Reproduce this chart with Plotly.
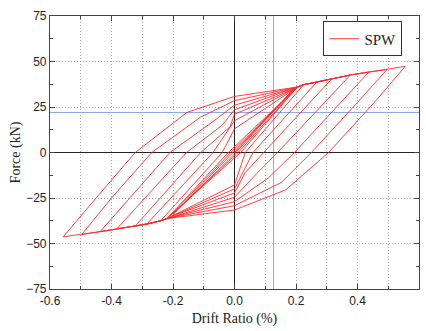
import plotly.graph_objects as go

# Backbone (envelope) points
env_pos_x = [0.205, 0.225, 0.268, 0.317, 0.377, 0.437, 0.496, 0.555]
env_pos_f = [36.0, 37.3, 38.7, 40.6, 42.6, 44.2, 45.6, 47.3]
env_neg_x = [-0.22, -0.24, -0.285, -0.323, -0.383, -0.437, -0.497, -0.557]
env_neg_f = [-36.3, -37.5, -39.3, -40.5, -42.0, -43.5, -45.1, -46.3]

# Unloading branches (positive peak -> toward negative side), inner cycles first
unload_x = [
    [0.19, 0.005, -0.20],
    [0.20, 0.012, -0.21],
    [0.205, 0.02, -0.22],
    [0.225, 0.035, 0.0, -0.22],
    [0.268, 0.06, 0.0, -0.22],
    [0.317, 0.095, 0.035, 0.0, -0.22],
    [0.377, 0.14, 0.07, 0.0, -0.22],
    [0.437, 0.195, 0.11, 0.0, -0.22],
    [0.496, 0.40, 0.25, 0.153, 0.0, -0.22],
    [0.555, 0.46, 0.306, 0.167, 0.0, -0.22],
]
unload_f = [
    [34.5, 0.0, -34.0],
    [35.2, 0.0, -35.0],
    [36.0, 0.0, -36.3],
    [37.3, 0.0, -17.8, -36.3],
    [38.7, 0.0, -20.0, -36.3],
    [40.6, 0.0, -11.0, -22.2, -36.3],
    [42.6, 0.0, -12.0, -24.6, -36.3],
    [44.2, 0.0, -14.0, -27.0, -36.3],
    [45.6, 27.5, 0.0, -16.4, -29.2, -36.3],
    [47.3, 28.5, 0.0, -20.5, -31.6, -36.3],
]
# Negative peaks per cycle
neg_peak_x = [-0.20, -0.21, -0.22, -0.24, -0.285, -0.323, -0.383, -0.437, -0.497, -0.557]
# Reloading branches (negative peak -> toward positive side)
reload_x = [
    [-0.20, -0.005, 0.20],
    [-0.21, -0.012, 0.205],
    [-0.22, -0.02, 0.205],
    [-0.24, -0.04, 0.0, 0.205],
    [-0.285, -0.07, 0.0, 0.205],
    [-0.323, -0.11, -0.015, 0.0, 0.205],
    [-0.383, -0.156, -0.04, 0.0, 0.205],
    [-0.437, -0.21, -0.07, 0.0, 0.205],
    [-0.497, -0.40, -0.269, -0.11, 0.0, 0.205],
    [-0.557, -0.46, -0.323, -0.155, 0.0, 0.205],
]
reload_f = [
    [-34.0, 0.0, 35.2],
    [-35.0, 0.0, 36.0],
    [-36.3, 0.0, 36.0],
    [-37.5, 0.0, 13.0, 36.0],
    [-39.3, 0.0, 17.5, 36.0],
    [-40.5, 0.0, 14.0, 21.0, 36.0],
    [-42.0, 0.0, 15.0, 23.5, 36.0],
    [-43.5, 0.0, 17.0, 26.0, 36.0],
    [-45.1, -25.0, 0.0, 19.5, 28.5, 36.0],
    [-46.3, -27.0, 0.0, 22.0, 30.8, 36.0],
]

xs, fs = [0.0], [0.0]
for i in range(len(unload_x)):
    peak = unload_x[i][0]
    for ex, ef in zip(env_pos_x, env_pos_f):
        if xs[-1] < ex < peak - 1e-9:
            xs.append(ex); fs.append(ef)
    xs += unload_x[i]; fs += unload_f[i]
    npk = neg_peak_x[i]
    for ex, ef in zip(env_neg_x, env_neg_f):
        if npk + 1e-9 < ex < xs[-1]:
            xs.append(ex); fs.append(ef)
    xs += reload_x[i]; fs += reload_f[i]

fig = go.Figure()
fig.add_trace(go.Scatter(x=xs, y=fs, mode="lines", name="SPW",
                         line=dict(color="#ff2a2a", width=0.9), showlegend=True))

blue = "#8aa6e6"
fig.add_shape(type="line", xref="paper", yref="y", x0=0, x1=1, y0=22, y1=22,
              line=dict(color=blue, width=1), layer="below")
fig.add_shape(type="line", xref="x", yref="paper", x0=0.127, x1=0.127, y0=0, y1=1,
              line=dict(color=blue, width=1), layer="below")

grid_dash = "1px,2px"
axis_common = dict(showline=True, mirror="ticks", linecolor="#444", linewidth=1.2,
                   ticks="inside", ticklen=5, tickcolor="#444", automargin=False,
                   zeroline=True, zerolinecolor="#222", zerolinewidth=1.2,
                   showgrid=True, gridcolor="#a8a8a8", griddash=grid_dash, gridwidth=1,
                   tickfont=dict(family="Liberation Sans, Arial", size=12, color="#222"),
                   title_font=dict(family="Liberation Serif, Times New Roman", size=14, color="#222"))

fig.update_xaxes(range=[-0.6, 0.6], tickvals=[-0.6, -0.4, -0.2, 0.0, 0.2, 0.4, 0.6],
                 ticktext=["-0.6", "-0.4", "-0.2", "0.0", "0.2", "0.4", "0.6"],
                 minor=dict(dtick=0.1, tick0=0, ticks="inside", ticklen=3, tickcolor="#444",
                            showgrid=True, gridcolor="#a8a8a8", griddash=grid_dash),
                 title_text="Drift Ratio (%)", title_standoff=6, **axis_common)
fig.update_yaxes(range=[-75, 75], tickvals=[-75, -50, -25, 0, 25, 50, 75],
                 minor=dict(dtick=12.5, tick0=0, ticks="inside", ticklen=3, tickcolor="#444",
                            showgrid=False),
                 title_text="Force (kN)", title_standoff=2, **axis_common)

fig.update_layout(
    width=426, height=331,
    margin=dict(l=50, r=7, t=16, b=42, autoexpand=False),
    plot_bgcolor="white", paper_bgcolor="white",
    legend=dict(x=0.955, y=0.98, xanchor="right", yanchor="top",
                bordercolor="#333", borderwidth=1, bgcolor="white",
                font=dict(family="Liberation Serif, Times New Roman", size=15, color="#222"),
                itemwidth=30),
)
fig.write_html("out.html", config={"displayModeBar": False},
               post_script="document.body.style.margin='0px';document.body.style.overflow='hidden';")
